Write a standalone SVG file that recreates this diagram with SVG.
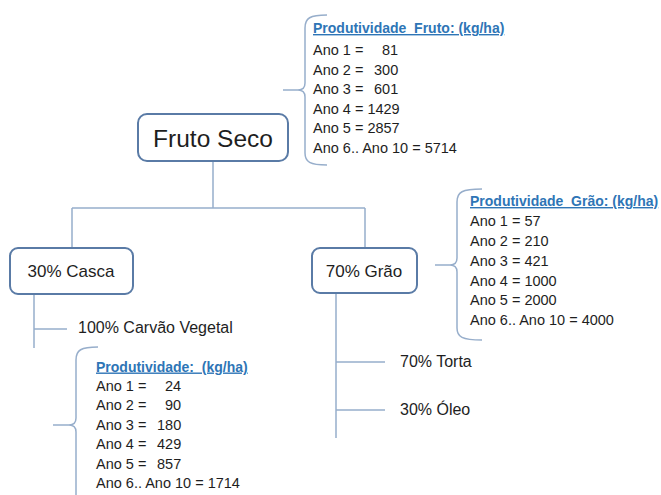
<svg xmlns="http://www.w3.org/2000/svg" width="661" height="495" viewBox="0 0 661 495">
<style>
.box{fill:#fff;stroke:#5a7ba6;stroke-width:2}
.ln{fill:none;stroke:#97aecb;stroke-width:1.5}
.t{font-family:"Liberation Sans",Arial,sans-serif;fill:#1e1e1e}
.s{font-size:14.5px}
.h{font-family:"Liberation Sans",Arial,sans-serif;font-size:14px;font-weight:bold;fill:#2e75b6;text-decoration:underline}
</style>
<rect width="661" height="495" fill="#fff"/>
<g id="connectors">
<path class="ln" d="M213,161 V208 M72,208 H365 M72,208 V248 M365,208 V248"/>
<path class="ln" d="M34,294 V348 M34,329 H67"/>
<path class="ln" d="M336,293 V438 M336,362 H385 M336,410 H385"/>
<path class="ln" d="M283,90 H298 M327,15 C310,15 305,18 305,28 V83 Q305,90 298,90 Q305,90 305,97 V153 C305,162 310,165 327,165"/>
<path class="ln" d="M435,265 H450 M482,189 C462,189 457,192 457,202 V258 Q457,265 450,265 Q457,265 457,272 V328 C457,337 462,340 482,340"/>
<path class="ln" d="M53,425 H69 M98,347 C81,347 76,350 76,360 V418 Q76,425 69,425 Q76,425 76,432 V495"/>
</g>
<g id="fruto-seco">
<rect class="box" x="138" y="114" width="150" height="47" rx="9"/>
<text class="t" x="213" y="147" font-size="24.5" text-anchor="middle">Fruto Seco</text>
</g>
<g id="casca">
<rect class="box" x="10" y="248" width="123" height="46" rx="8"/>
<text class="t" x="71" y="277" font-size="17" text-anchor="middle">30% Casca</text>
</g>
<g id="grao">
<rect class="box" x="312" y="248" width="105" height="45" rx="8"/>
<text class="t" x="364" y="277" font-size="17" text-anchor="middle">70% Grão</text>
</g>
<g id="carvao">
<text class="t" x="78" y="333" font-size="16">100% Carvão Vegetal</text>
</g>
<g id="torta">
<text class="t" x="400" y="367" font-size="16">70% Torta</text>
</g>
<g id="oleo">
<text class="t" x="400" y="415" font-size="16">30% Óleo</text>
</g>
<g id="prod-fruto">
<text class="h" x="313" y="33" xml:space="preserve">Produtividade  Fruto: (kg/ha)</text>
<text class="t s" x="313" y="55">Ano 1 =<tspan x="382">81</tspan></text>
<text class="t s" x="313" y="74.5">Ano 2 =<tspan x="374">300</tspan></text>
<text class="t s" x="313" y="94">Ano 3 =<tspan x="374">601</tspan></text>
<text class="t s" x="313" y="113.5">Ano 4 = 1429</text>
<text class="t s" x="313" y="133">Ano 5 = 2857</text>
<text class="t s" x="313" y="152.5">Ano 6.. Ano 10 = 5714</text>
</g>
<g id="prod-grao">
<text class="h" x="470" y="206" xml:space="preserve">Produtividade  Grão: (kg/ha)</text>
<text class="t s" x="470" y="226">Ano 1 = 57</text>
<text class="t s" x="470" y="246">Ano 2 = 210</text>
<text class="t s" x="470" y="266">Ano 3 = 421</text>
<text class="t s" x="470" y="285.5">Ano 4 = 1000</text>
<text class="t s" x="470" y="305">Ano 5 = 2000</text>
<text class="t s" x="470" y="325">Ano 6.. Ano 10 = 4000</text>
</g>
<g id="prod-casca">
<text class="h" x="96" y="371.5" xml:space="preserve">Produtividade:  (kg/ha)</text>
<text class="t s" x="96" y="390.5">Ano 1 =<tspan x="165">24</tspan></text>
<text class="t s" x="96" y="410">Ano 2 =<tspan x="165">90</tspan></text>
<text class="t s" x="96" y="429.5">Ano 3 =<tspan x="157">180</tspan></text>
<text class="t s" x="96" y="449">Ano 4 =<tspan x="157">429</tspan></text>
<text class="t s" x="96" y="468.5">Ano 5 =<tspan x="157">857</tspan></text>
<text class="t s" x="96" y="488">Ano 6.. Ano 10 = 1714</text>
</g>
</svg>
